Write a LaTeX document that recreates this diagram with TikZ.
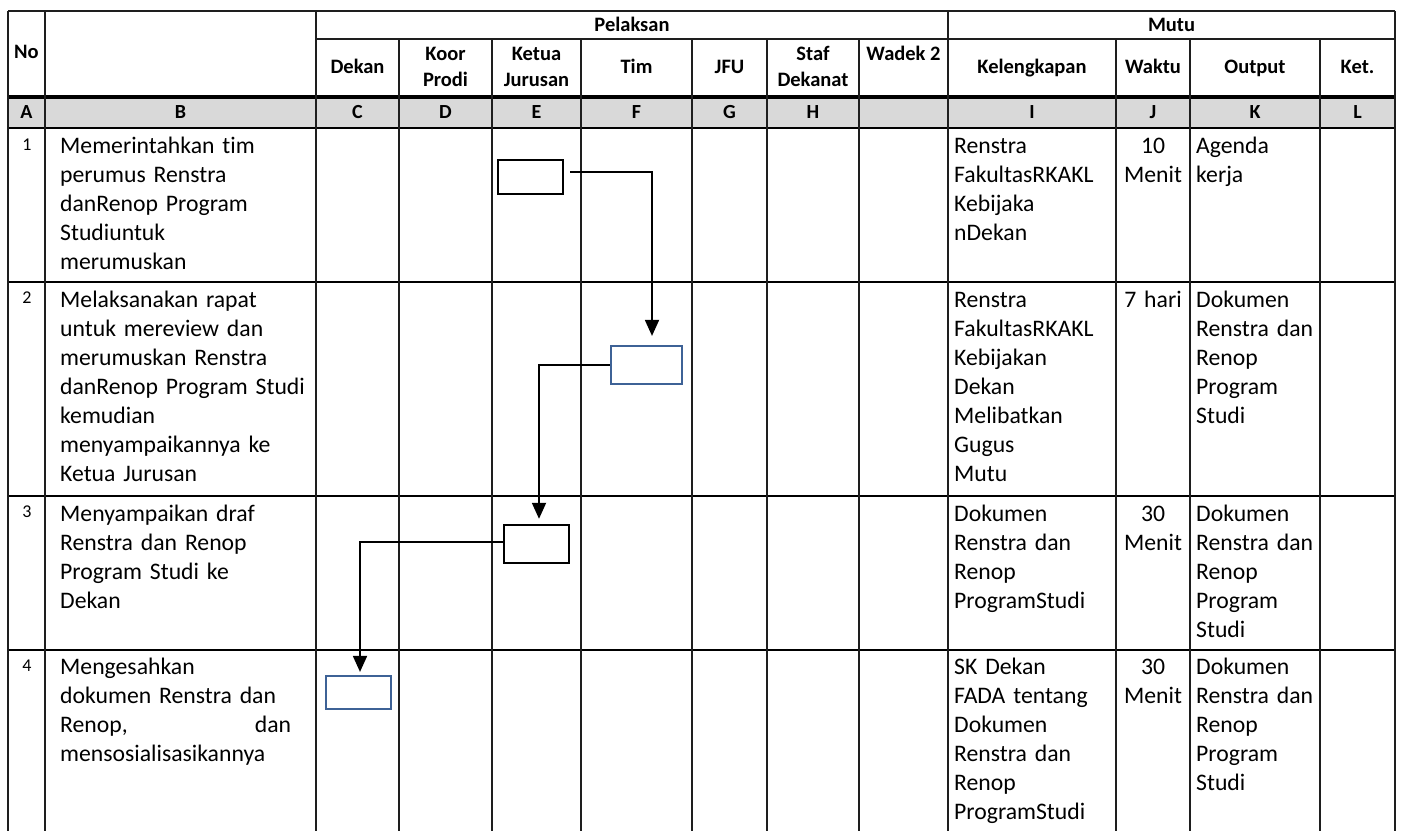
\documentclass[tikz,border=0pt]{standalone}
\usepackage{fontspec}
\setmainfont{Carlito}[Ligatures={NoCommon,NoRequired,NoContextual}]
\usetikzlibrary{arrows.meta}
\definecolor{boxblue}{RGB}{62,98,150}
\definecolor{hdrgray}{RGB}{217,217,217}
\definecolor{gridc}{RGB}{30,30,30}
\tikzset{
  hdr/.style={font=\bfseries\fontsize{20.5}{26}\selectfont, inner sep=0pt, anchor=base, align=center},
  hdrw/.style={hdr, text width=#1},
  lett/.style={font=\bfseries\fontsize{20}{24}\selectfont, inner sep=0pt, anchor=base},
  num/.style={font=\fontsize{18}{22}\selectfont, inner sep=0pt, anchor=base},
  body/.style={font=\fontsize{23.7}{29}\selectfont, inner sep=0pt, anchor=base west, align=left, text width=#1},
  bodyc/.style={font=\fontsize{23.7}{29}\selectfont, inner sep=0pt, anchor=base, align=center, text width=#1},
  vline/.style={draw=gridc, line width=1.3pt},
  hline/.style={draw=black, line width=1.8pt},
  blackbox/.style={draw=black, line width=2.4pt, minimum width=#1, inner sep=0pt},
  bluebox/.style={draw=boxblue, line width=2.2pt, minimum width=#1, inner sep=0pt},
  arr/.style={draw=black, line width=1.8pt, -{Triangle[width=14pt,length=16pt]}},
}
\begin{document}
\begin{tikzpicture}[x=1pt,y=-1pt]
\useasboundingbox (0,0) rectangle (1402,831);
% letter row fill
\fill[hdrgray] (8,97) rectangle (1395,128);
% horizontal lines
\draw[vline] (8,11) -- (1395,11);
\draw[vline] (316,39) -- (1395,39);
\draw[line width=3.5pt] (8,97) -- (1395,97);
\draw[line width=2pt] (8,128) -- (1395,128);
\draw[hline] (8,282) -- (1395,282);
\draw[hline] (8,496) -- (1395,496);
\draw[hline] (8,650) -- (1395,650);
% vertical lines
\foreach \x in {8,45,316,948,1395} \draw[vline] (\x,11) -- (\x,831);
\foreach \x in {399,492,581,692,767,859,1116,1190,1320} \draw[vline] (\x,39) -- (\x,831);

% header texts
\node[hdr] (hno) at (26.5,58) {No};
\node[hdr] (hpel) at (632,31.5) {Pelaksan};
\node[hdr] (hmutu) at (1171.5,31.5) {Mutu};
\node[hdr] (hdekan) at (357.5,73.5) {Dekan};
\node[hdrw=90pt] (hkoor) at (445.5,60) {Koor\\Prodi};
\node[hdrw=90pt] (hketua) at (536.5,60) {Ketua\\Jurusan};
\node[hdr] (htim) at (636.5,73.5) {Tim};
\node[hdr] (hjfu) at (729.5,73.5) {JFU};
\node[hdrw=90pt] (hstaf) at (813,60) {Staf\\Dekanat};
\node[hdr] (hwadek) at (903.5,60) {Wadek 2};
\node[hdr] (hkel) at (1032,73.5) {Kelengkapan};
\node[hdr] (hwaktu) at (1153,73.5) {Waktu};
\node[hdr] (hout) at (1255,73.5) {Output};
\node[hdr] (hket) at (1357.5,73.5) {Ket.};

% letter row
\node[lett] (lA) at (26.5,118.5) {A};
\node[lett] (lB) at (180.5,118.5) {B};
\node[lett] (lC) at (357.5,118.5) {C};
\node[lett] (lD) at (445.5,118.5) {D};
\node[lett] (lE) at (536.5,118.5) {E};
\node[lett] (lF) at (636.5,118.5) {F};
\node[lett] (lG) at (729.5,118.5) {G};
\node[lett] (lH) at (813,118.5) {H};
\node[lett] (lI) at (1032,118.5) {I};
\node[lett] (lJ) at (1153,118.5) {J};
\node[lett] (lK) at (1255,118.5) {K};
\node[lett] (lL) at (1357.5,118.5) {L};

% row numbers
\node[num] (n1) at (27,150) {1};
\node[num] (n2) at (27,303) {2};
\node[num] (n3) at (27,517) {3};
\node[num] (n4) at (27,671) {4};

% row 1
\node[body=250pt] (b1t) at (60,153) {Memerintahkan tim\\perumus Renstra\\danRenop Program\\Studiuntuk\\merumuskan};
\node[body=160pt] (i1) at (954,153) {Renstra\\FakultasRKAKL\\Kebijaka\\nDekan};
\node[bodyc=72pt] (j1) at (1153,153) {10\\Menit};
\node[body=125pt] (k1) at (1196,153) {Agenda\\kerja};
% row 2
\node[body=250pt] (b2t) at (60,307) {Melaksanakan rapat\\untuk mereview dan\\merumuskan Renstra\\danRenop Program Studi\\kemudian\\menyampaikannya ke\\Ketua Jurusan};
\node[body=160pt] (i2) at (954,307) {Renstra\\FakultasRKAKL\\Kebijakan\\Dekan\\Melibatkan\\Gugus\\Mutu};
\node[bodyc=72pt] (j2) at (1153,307) {7 hari};
\node[body=125pt] (k2) at (1196,307) {Dokumen\\Renstra dan\\Renop\\Program\\Studi};
% row 3
\node[body=250pt] (b3t) at (60,521) {Menyampaikan draf\\Renstra dan Renop\\Program Studi ke\\Dekan};
\node[body=160pt] (i3) at (954,521) {Dokumen\\Renstra dan\\Renop\\ProgramStudi};
\node[bodyc=72pt] (j3) at (1153,521) {30\\Menit};
\node[body=125pt] (k3) at (1196,521) {Dokumen\\Renstra dan\\Renop\\Program\\Studi};
% row 4
\node[body=231pt] (b4t) at (60,674) {Mengesahkan\\dokumen Renstra dan\\Renop,\hfill dan\\mensosialisasikannya};
\node[body=160pt] (i4) at (954,674) {SK Dekan\\FADA tentang\\Dokumen\\Renstra dan\\Renop\\ProgramStudi};
\node[bodyc=72pt] (j4) at (1153,674) {30\\Menit};
\node[body=125pt] (k4) at (1196,674) {Dokumen\\Renstra dan\\Renop\\Program\\Studi};

% flow boxes
\node[blackbox=65pt, minimum height=34pt] (s1) at (530.5,177) {};
\node[bluebox=71pt, minimum height=38pt] (s2) at (646.5,365) {};
\node[blackbox=65pt, minimum height=38pt] (s3) at (536.5,544) {};
\node[bluebox=65pt, minimum height=33pt] (s4) at (358.5,692.5) {};

% connectors
\draw[arr] ([xshift=6pt,yshift=5pt]s1.east) -| ([xshift=5.5pt,yshift=9pt]s2.north);
\draw[arr] (s2.west) -| ([xshift=2.5pt,yshift=5pt]s3.north);
\draw[arr] ([yshift=2pt]s3.west) -| ([xshift=1.5pt,yshift=3pt]s4.north);
\end{tikzpicture}
\end{document}
